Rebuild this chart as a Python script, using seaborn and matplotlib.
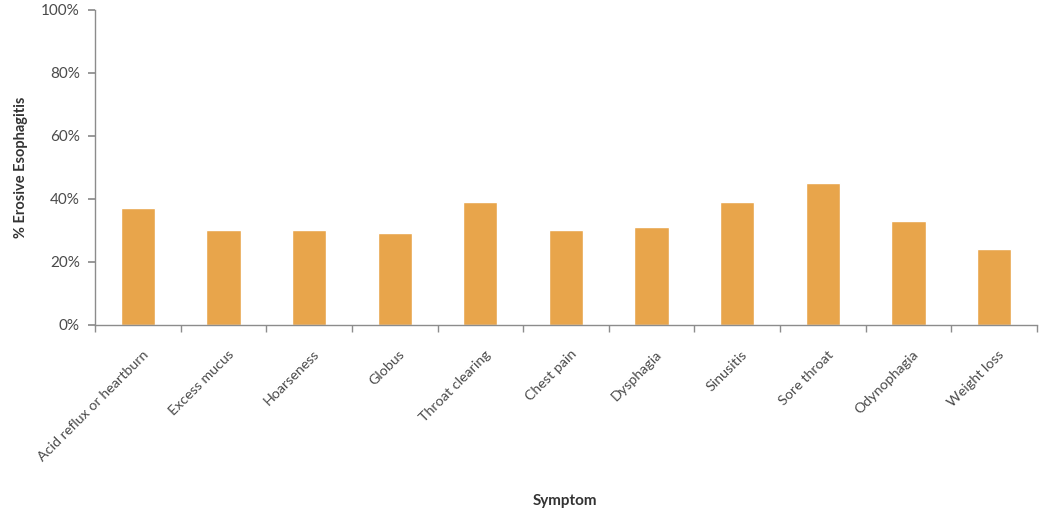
import matplotlib
matplotlib.use("Agg")
import matplotlib.pyplot as plt
import matplotlib.transforms as mtransforms
import seaborn as sns
import numpy as np
import pandas as pd
from matplotlib.ticker import FixedLocator, PercentFormatter

symptoms = ["Acid reflux or heartburn", "Excess mucus", "Hoarseness", "Globus",
            "Throat clearing", "Chest pain", "Dysphagia", "Sinusitis",
            "Sore throat", "Odynophagia", "Weight loss"]
erosive_pct = [37, 30, 30, 29, 39, 30, 31, 39, 45, 33, 24]
y_ticks = [0, 20, 40, 60, 80, 100]

sns.set_theme(style="white")
plt.rcParams['font.family'] = ['Lato', 'DejaVu Sans']

df = pd.DataFrame({"Symptom": symptoms, "Pct": erosive_pct})

fig = plt.figure(figsize=(10.5, 5.18), dpi=100)
ax = fig.add_axes([0.0905, 0.3735, 0.897, 0.6075])

sns.barplot(data=df, x="Symptom", y="Pct", color="#E8A54B", saturation=1,
            width=0.4, ax=ax)

gray = "#8C8C8C"
ax.set_ylim(0, 100)
ax.set_xlim(-0.5, len(symptoms) - 0.5)
ax.yaxis.set_major_locator(FixedLocator(y_ticks))
ax.yaxis.set_major_formatter(PercentFormatter(decimals=0))

for s in ["top", "right"]:
    ax.spines[s].set_visible(False)
for s in ["left", "bottom"]:
    ax.spines[s].set_color(gray)
    ax.spines[s].set_linewidth(1.0)

ax.tick_params(axis="y", which="major", left=True, length=5, color=gray,
               labelsize=11, labelcolor="#4a4a4a", pad=6)
ax.tick_params(axis="x", which="major", bottom=False, length=0, labelsize=10.3,
               labelcolor="#4a4a4a", pad=17)
ax.xaxis.set_minor_locator(FixedLocator(np.arange(-0.5, len(symptoms), 1.0)))
ax.tick_params(axis="x", which="minor", bottom=True, length=5, color=gray)

shift = mtransforms.ScaledTranslation(4 / 100, 0, fig.dpi_scale_trans)
for lbl in ax.get_xticklabels():
    lbl.set_rotation(45)
    lbl.set_ha("right")
    lbl.set_va("top")
    lbl.set_rotation_mode("anchor")
    lbl.set_transform(lbl.get_transform() + shift)

ax.set_ylabel("% Erosive Esophagitis", fontsize=10.5, fontweight="bold",
              color="#333333", labelpad=9)
ax.set_xlabel("Symptom", fontsize=11, fontweight="bold", color="#333333")
ax.xaxis.set_label_coords(0.499, -0.54)

fig.savefig("out.png", dpi=100, facecolor="white")
